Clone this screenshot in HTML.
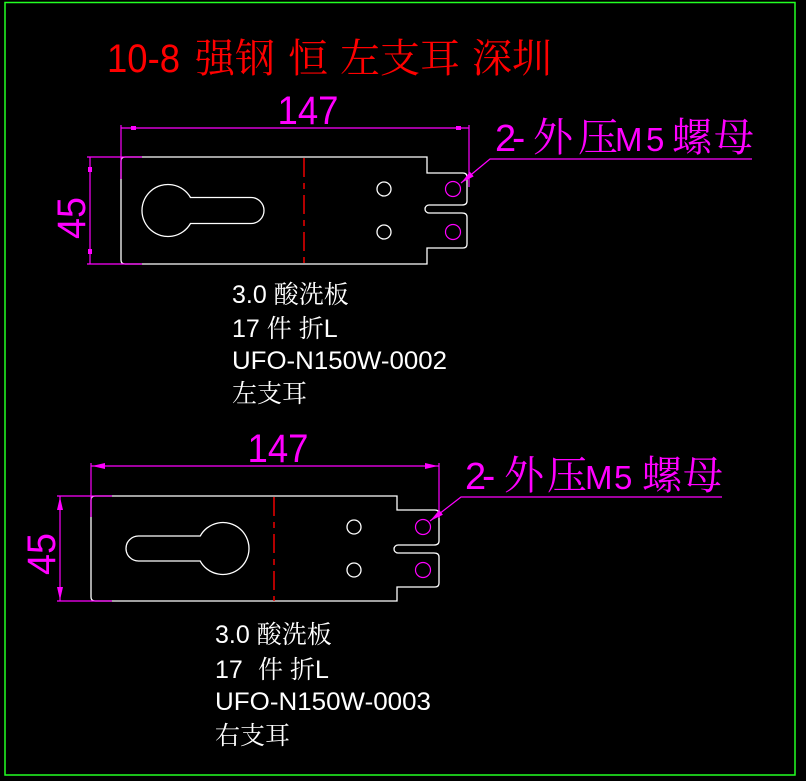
<!DOCTYPE html>
<html><head><meta charset="utf-8"><style>
html,body{margin:0;padding:0;background:#000;}
svg{display:block;}
.lat{font-family:"Liberation Sans","Noto Serif CJK SC",sans-serif;}
.cjk{font-family:"Noto Serif CJK SC","Liberation Serif",serif;}
.mix{font-family:"Liberation Sans","Noto Serif CJK SC",sans-serif;}
</style></head><body>
<svg width="806" height="781" viewBox="0 0 806 781" xmlns="http://www.w3.org/2000/svg">
<rect x="0" y="0" width="806" height="781" fill="#000"/>
<rect x="5" y="2.5" width="790" height="772.5" fill="none" stroke="#22ff22" stroke-width="1.5"/>

<!-- Title -->
<text x="107" y="72" font-size="40" fill="#ff0000" class="lat" textLength="73" lengthAdjust="spacingAndGlyphs">10-8</text>
<text y="72" font-size="40" fill="#ff0000" class="cjk"><tspan x="195">强钢</tspan><tspan x="288">恒</tspan><tspan x="340">左支耳</tspan><tspan x="472">深圳</tspan></text>

<!-- ============ Drawing 1 ============ -->
<g fill="none" stroke="#ffffff" stroke-width="1.3">
<path d="M125,157 H427 V173 H463 Q467,173 467,177 V201 Q467,205 462,205 H429 A4,4 0 0 0 429,213 H462 Q467,213 467,217 V244 Q467,248 463,248 H427 V264 H125 Q121,264 121,260 V161 Q121,157 125,157 Z"/>
<path d="M190.5,197.5 H251 A13,13 0 0 1 251,223.5 H190.5 A26,26 0 1 1 190.5,197.5 Z"/>
<circle cx="384" cy="189" r="7"/>
<circle cx="384" cy="232" r="7"/>
</g>
<line x1="304" y1="158" x2="304" y2="264" stroke="#ff0000" stroke-width="1.4" stroke-dasharray="19,6,6,6"/>
<g fill="none" stroke="#ff00ff" stroke-width="1.2">
<circle cx="453" cy="189" r="7.5"/>
<circle cx="453" cy="232" r="7.5"/>
<line x1="121" y1="128" x2="469" y2="128"/>
<line x1="121" y1="125" x2="121" y2="179"/>
<line x1="469" y1="125" x2="469" y2="187"/>
<line x1="90" y1="157" x2="90" y2="264"/>
<line x1="87" y1="157" x2="142" y2="157"/>
<line x1="87" y1="264" x2="142" y2="264"/>
<polyline points="461,183 490,159 752,159"/>
</g>
<g fill="#ff00ff">
<rect x="131" y="126" width="5" height="4"/>
<rect x="456" y="126" width="5" height="4"/>
<rect x="88" y="167" width="4" height="5"/>
<rect x="88" y="249" width="4" height="5"/>
<polygon points="461,183 473.7,176.4 469.9,171.8"/>
</g>
<text x="308" y="124" font-size="40" fill="#ff00ff" class="lat" text-anchor="middle" textLength="61" lengthAdjust="spacingAndGlyphs">147</text>
<text transform="translate(85,218) rotate(-90)" x="0" y="0" font-size="40" fill="#ff00ff" class="lat" text-anchor="middle" textLength="42" lengthAdjust="spacingAndGlyphs">45</text>
<text y="151" font-size="40" fill="#ff00ff" class="cjk"><tspan x="495" class="lat" font-size="38">2</tspan><tspan x="512" class="lat">-</tspan><tspan x="533">外</tspan><tspan x="578">压</tspan><tspan x="615" class="lat" font-size="33">M</tspan><tspan x="646" class="lat" font-size="33">5</tspan><tspan x="672">螺</tspan><tspan x="714">母</tspan></text>

<!-- Text block 1 -->
<g font-size="25" fill="#ffffff" class="mix">
<text x="232" y="303">3.0 酸洗板</text>
<text x="232" y="337">17 件 折L</text>
<text x="232" y="369" textLength="215" lengthAdjust="spacingAndGlyphs">UFO-N150W-0002</text>
<text x="232" y="402">左支耳</text>
</g>

<!-- ============ Drawing 2 ============ -->
<g fill="none" stroke="#ffffff" stroke-width="1.3">
<path d="M95,496 H397 V510 H435 Q439,510 439,514 V541 Q439,545 434,545 H398 A4,4 0 0 0 398,553 H434 Q439,553 439,557 V583 Q439,587 435,587 H397 V601 H95 Q91,601 91,597 V500 Q91,496 95,496 Z"/>
<path d="M200.2,536 H138.5 A12.5,12.5 0 0 0 138.5,561 H200.2 A26,26 0 1 0 200.2,536 Z"/>
<circle cx="354" cy="527" r="7"/>
<circle cx="354" cy="570" r="7"/>
</g>
<line x1="274" y1="497" x2="274" y2="601" stroke="#ff0000" stroke-width="1.4" stroke-dasharray="19,6,6,6"/>
<g fill="none" stroke="#ff00ff" stroke-width="1.2">
<circle cx="423" cy="527" r="7.5"/>
<circle cx="423" cy="570" r="7.5"/>
<line x1="91" y1="466" x2="439" y2="466"/>
<line x1="91" y1="463" x2="91" y2="517"/>
<line x1="439" y1="463" x2="439" y2="518"/>
<line x1="60" y1="496" x2="60" y2="601"/>
<line x1="57" y1="496" x2="112" y2="496"/>
<line x1="57" y1="601" x2="112" y2="601"/>
<polyline points="430,521 461,497 722,497"/>
</g>
<g fill="#ff00ff">
<polygon points="92,466 105,463 105,469"/>
<polygon points="438,466 425,463 425,469"/>
<polygon points="60,497 57,510 63,510"/>
<polygon points="60,600 57,587 63,587"/>
<polygon points="430,521 442.9,514.8 439.3,510"/>
</g>
<text x="278" y="462" font-size="40" fill="#ff00ff" class="lat" text-anchor="middle" textLength="61" lengthAdjust="spacingAndGlyphs">147</text>
<text transform="translate(55,554) rotate(-90)" x="0" y="0" font-size="40" fill="#ff00ff" class="lat" text-anchor="middle" textLength="42" lengthAdjust="spacingAndGlyphs">45</text>
<text y="489" font-size="40" fill="#ff00ff" class="cjk"><tspan x="465" class="lat" font-size="38">2</tspan><tspan x="482" class="lat">-</tspan><tspan x="504">外</tspan><tspan x="547">压</tspan><tspan x="585" class="lat" font-size="33">M</tspan><tspan x="614" class="lat" font-size="33">5</tspan><tspan x="642">螺</tspan><tspan x="683">母</tspan></text>

<!-- Text block 2 -->
<g font-size="25" fill="#ffffff" class="mix">
<text x="215" y="643">3.0 酸洗板</text>
<text y="678"><tspan x="215">17</tspan><tspan x="258">件 折L</tspan></text>
<text x="215" y="710" textLength="216" lengthAdjust="spacingAndGlyphs">UFO-N150W-0003</text>
<text x="215" y="744">右支耳</text>
</g>
</svg>
</body></html>
